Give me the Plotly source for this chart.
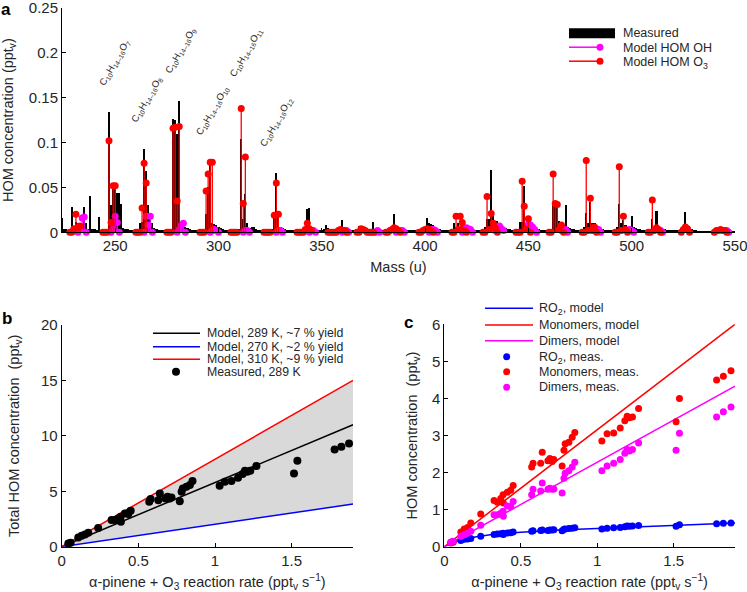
import plotly.graph_objects as go

# ---------------- Panel a : mass spectrum ----------------
measured_mass = list(range(224, 551))
measured_conc = [
    0.016, 0.004, 0.004, 0.003, 0.004, 0.028, 0.005, 0.012, 0.010, 0.006,  # 224-233
    0.004, 0.028, 0.010, 0.004, 0.040, 0.004, 0.004, 0.003, 0.017, 0.003,  # 234-243
    0.003, 0.004, 0.004, 0.134, 0.030, 0.052, 0.052, 0.044, 0.044, 0.032,  # 244-253
    0.005, 0.004, 0.004, 0.003, 0.003, 0.003, 0.004, 0.004, 0.010, 0.012,  # 254-263
    0.093, 0.068, 0.030, 0.015, 0.010, 0.005, 0.004, 0.003, 0.003, 0.003,  # 264-273
    0.003, 0.003, 0.004, 0.004, 0.126, 0.125, 0.110, 0.146, 0.012, 0.010,  # 274-283
    0.006, 0.005, 0.004, 0.003, 0.003, 0.003, 0.003, 0.003, 0.003, 0.004,  # 284-293
    0.020, 0.050, 0.080, 0.010, 0.009, 0.008, 0.006, 0.005, 0.004, 0.003,  # 294-303
    0.003, 0.003, 0.003, 0.003, 0.003, 0.003, 0.004, 0.104, 0.015, 0.043,  # 304-313
    0.010, 0.005, 0.006, 0.006, 0.004, 0.003, 0.003, 0.003, 0.003, 0.003,  # 314-323
    0.003, 0.003, 0.004, 0.020, 0.066, 0.020, 0.006, 0.005, 0.004, 0.003,  # 324-333
    0.003, 0.003, 0.003, 0.003, 0.003, 0.003, 0.003, 0.003, 0.004, 0.026,  # 334-343
    0.027, 0.005, 0.004, 0.003, 0.003, 0.003, 0.003, 0.004, 0.008, 0.005,  # 344-353
    0.004, 0.004, 0.003, 0.004, 0.004, 0.005, 0.014, 0.004, 0.004, 0.003,  # 354-363
    0.003, 0.003, 0.003, 0.004, 0.007, 0.005, 0.004, 0.004, 0.003, 0.003,  # 364-373
    0.004, 0.012, 0.004, 0.003, 0.003, 0.003, 0.003, 0.003, 0.004, 0.005,  # 374-383
    0.006, 0.020, 0.005, 0.004, 0.004, 0.003, 0.003, 0.003, 0.003, 0.003,  # 384-393
    0.003, 0.003, 0.003, 0.003, 0.003, 0.004, 0.005, 0.016, 0.010, 0.009,  # 394-403
    0.008, 0.006, 0.004, 0.004, 0.003, 0.003, 0.003, 0.003, 0.003, 0.004,  # 404-413
    0.010, 0.006, 0.010, 0.006, 0.012, 0.008, 0.006, 0.004, 0.004, 0.003,  # 414-423
    0.003, 0.003, 0.003, 0.003, 0.004, 0.006, 0.015, 0.015, 0.069, 0.020,  # 424-433
    0.013, 0.013, 0.010, 0.008, 0.006, 0.005, 0.004, 0.004, 0.003, 0.003,  # 434-443
    0.003, 0.004, 0.012, 0.012, 0.052, 0.010, 0.010, 0.008, 0.006, 0.005,  # 444-453
    0.004, 0.004, 0.003, 0.003, 0.003, 0.003, 0.003, 0.004, 0.034, 0.033,  # 454-463
    0.032, 0.013, 0.012, 0.008, 0.030, 0.006, 0.005, 0.004, 0.004, 0.003,  # 464-473
    0.003, 0.003, 0.003, 0.006, 0.022, 0.010, 0.034, 0.010, 0.010, 0.006,  # 474-483
    0.005, 0.004, 0.004, 0.003, 0.003, 0.003, 0.003, 0.003, 0.003, 0.006,  # 484-493
    0.032, 0.010, 0.014, 0.008, 0.006, 0.005, 0.018, 0.006, 0.005, 0.004,  # 494-503
    0.004, 0.003, 0.003, 0.003, 0.003, 0.004, 0.015, 0.006, 0.024, 0.006,  # 504-513
    0.005, 0.004, 0.004, 0.003, 0.003, 0.003, 0.003, 0.003, 0.003, 0.003,  # 514-523
    0.004, 0.005, 0.023, 0.005, 0.004, 0.004, 0.003, 0.003, 0.002, 0.002,  # 524-533
    0.002, 0.002, 0.002, 0.002, 0.002, 0.002, 0.002, 0.003, 0.003, 0.003,  # 534-543
    0.003, 0.003, 0.003, 0.003, 0.002, 0.002, 0.002,                       # 544-550
]

o3_mass = [
    228, 229, 230, 231, 232, 233,
    244, 245, 246, 247, 248, 249, 250,
    260, 261, 262, 263, 264, 265,
    275, 276, 277, 278, 279, 280, 281,
    291, 292, 293, 294, 295, 296, 297,
    306, 307, 308, 309, 311, 312, 313,
    322, 323, 324, 325, 327, 328, 329,
    338, 339, 340, 341, 342, 343, 344, 345,
    353, 354, 355, 356, 357, 358, 359, 360, 361, 362,
    367, 368, 369, 370, 371, 372, 373, 374, 375,
    381, 382, 383, 384, 385, 386, 387, 388,
    397, 398, 399, 400, 401, 402, 403, 404,
    413, 414, 415, 416, 417, 418, 419, 420,
    428, 429, 430, 431, 432, 433, 434, 435,
    444, 445, 446, 447, 448, 449, 450, 451,
    460, 461, 462, 463, 464, 465, 466, 467,
    476, 477, 478, 479, 480, 481, 482, 483,
    492, 493, 494, 495, 496, 497, 498,
    508, 509, 510, 511, 512, 513, 514,
    524, 525, 526, 527, 528,
    540, 541, 542, 543, 544, 545, 546,
]
o3_conc = [
    0, 0, 0.004, 0.020, 0.006, 0.007,
    0, 0, 0, 0.102, 0.011, 0.052, 0.052,
    0, 0, 0, 0.027, 0.077, 0.055,
    0, 0, 0, 0.116, 0.117, 0.035, 0.118,
    0, 0, 0, 0.046, 0.065, 0.078, 0.078,
    0, 0, 0, 0, 0.138, 0.032, 0.084,
    0, 0, 0, 0, 0.019, 0.055, 0.020,
    0, 0, 0, 0, 0.003, 0.010, 0.004, 0.002,
    0, 0, 0, 0, 0, 0.002, 0.003, 0.002, 0.002, 0,
    0, 0, 0.004, 0.003, 0.002, 0, 0, 0, 0,
    0, 0, 0.002, 0.003, 0.005, 0.004, 0.002, 0,
    0, 0, 0.002, 0.003, 0.004, 0.003, 0.002, 0,
    0, 0, 0.018, 0.003, 0.018, 0.011, 0.002, 0,
    0, 0, 0.040, 0.003, 0.021, 0.010, 0.005, 0,
    0, 0, 0, 0.057, 0.029, 0.003, 0.015, 0,
    0, 0, 0.065, 0.032, 0.031, 0.003, 0.008, 0,
    0, 0, 0.080, 0.002, 0.038, 0.002, 0.006, 0,
    0, 0, 0.073, 0.002, 0.018, 0.003, 0,
    0, 0, 0.036, 0.002, 0.005, 0.003, 0,
    0, 0.003, 0.006, 0.004, 0,
    0, 0.002, 0.002, 0.003, 0.002, 0.002, 0,
]

oh_mass = [
    232, 233, 234, 235, 236,
    248, 249, 250, 251, 252,
    264, 265, 266, 267, 268,
    280, 281, 282, 283, 284,
    296, 297, 298, 299, 300,
    312, 313, 314, 315,
    328, 329, 330, 331,
    344, 345, 346, 347,
    360, 361, 362, 363,
    376, 377, 378,
    386, 387, 388, 389, 390,
    402, 403, 404, 405, 406,
    418, 419, 420, 421, 422, 423,
    434, 435, 436, 437, 438,
    449, 450, 451, 452, 453, 454,
    466, 467, 468, 469,
    482, 483, 484, 485,
    498, 499, 500, 501,
    514, 515,
    545, 546, 547,
]
oh_conc = [
    0, 0.003, 0.016, 0.017, 0,
    0, 0.004, 0.018, 0.011, 0,
    0, 0.018, 0.008, 0.018, 0,
    0, 0.003, 0.008, 0.010, 0,
    0, 0.002, 0.003, 0.002, 0,
    0, 0.002, 0.002, 0,
    0, 0.002, 0.002, 0,
    0, 0.002, 0.002, 0,
    0, 0.002, 0.002, 0,
    0, 0.002, 0,
    0, 0.002, 0.002, 0.002, 0,
    0, 0.003, 0.003, 0.002, 0,
    0, 0.004, 0.005, 0.004, 0.003, 0,
    0.002, 0.006, 0.007, 0.004, 0.002,
    0.003, 0.009, 0.008, 0.006, 0.003, 0,
    0.002, 0.004, 0.003, 0,
    0.002, 0.004, 0.003, 0,
    0.002, 0.003, 0.002, 0,
    0.002, 0,
    0.002, 0.002, 0,
]

formula_text = [
    "C<sub>10</sub>H<sub>14\u201316</sub>O<sub>7</sub>",
    "C<sub>10</sub>H<sub>14\u201316</sub>O<sub>8</sub>",
    "C<sub>10</sub>H<sub>14\u201316</sub>O<sub>9</sub>",
    "C<sub>10</sub>H<sub>14\u201316</sub>O<sub>10</sub>",
    "C<sub>10</sub>H<sub>14\u201316</sub>O<sub>11</sub>",
    "C<sub>10</sub>H<sub>14\u201316</sub>O<sub>12</sub>",
]
formula_mass = [249.5, 265.0, 281.8, 297.3, 313.2, 328.0]
formula_conc = [0.189, 0.148, 0.203, 0.136, 0.200, 0.123]

# ---------------- Panels b and c ----------------
reaction_rate = [0.043, 0.058, 0.108, 0.130, 0.152, 0.173, 0.238, 0.325, 0.347, 0.369,
                 0.384, 0.386, 0.412, 0.434, 0.450, 0.571, 0.580, 0.630, 0.640, 0.677,
                 0.690, 0.705, 0.716, 0.770, 0.782, 0.790, 0.814, 0.836, 0.853, 1.030,
                 1.064, 1.107, 1.150, 1.180, 1.195, 1.210, 1.230, 1.270, 1.515, 1.537,
                 1.780, 1.824, 1.874]
total_meas = [0.30, 0.36, 0.84, 1.00, 1.10, 1.26, 1.68, 2.40, 2.40, 2.55,
              2.70, 2.25, 3.00, 2.95, 3.25, 4.06, 4.30, 4.20, 4.80, 4.36,
              4.50, 4.36, 4.45, 4.10, 4.96, 5.26, 5.40, 5.56, 5.92, 5.50,
              5.86, 5.92, 6.22, 6.55, 6.86, 6.77, 6.86, 7.28, 6.60, 7.76,
              8.78, 9.02, 9.30]
ro2_meas = [0.12, 0.14, 0.17, 0.20, 0.21, 0.22, 0.28, 0.33, 0.34, 0.35,
            0.36, 0.33, 0.37, 0.38, 0.40, 0.42, 0.43, 0.44, 0.45, 0.44,
            0.45, 0.45, 0.46, 0.43, 0.47, 0.48, 0.49, 0.50, 0.51, 0.48,
            0.50, 0.51, 0.52, 0.54, 0.56, 0.55, 0.56, 0.57, 0.55, 0.59,
            0.62, 0.63, 0.64]
mono_meas = [0.10, 0.12, 0.40, 0.48, 0.52, 0.64, 0.88, 1.25, 1.20, 1.30,
             1.40, 1.18, 1.47, 1.52, 1.65, 2.15, 2.25, 2.25, 2.55, 2.32,
             2.38, 2.30, 2.35, 2.18, 2.60, 2.78, 2.82, 2.95, 3.08, 2.85,
             3.05, 3.07, 3.20, 3.40, 3.52, 3.48, 3.50, 3.73, 3.37, 4.00,
             4.50, 4.60, 4.75]
dimer_meas = [0.12, 0.15, 0.28, 0.32, 0.36, 0.42, 0.58, 0.86, 0.86, 0.90,
              0.96, 0.82, 1.10, 1.08, 1.22, 1.40, 1.55, 1.50, 1.72, 1.55,
              1.58, 1.55, 1.56, 1.45, 1.85, 1.98, 2.05, 2.15, 2.28, 2.05,
              2.18, 2.25, 2.35, 2.52, 2.62, 2.58, 2.62, 2.80, 2.60, 3.06,
              3.50, 3.64, 3.77]

model_rate = [0.0, 1.9]
model_289K = [0.0, 11.0]
model_270K = [0.0, 3.85]
model_310K = [0.0, 15.0]

ro2_model_rate = [0.0, 0.05, 0.10, 0.20, 0.30, 0.50, 0.75, 1.00, 1.25, 1.50, 1.90]
ro2_model = [0.0, 0.10, 0.17, 0.26, 0.32, 0.39, 0.45, 0.49, 0.54, 0.58, 0.64]
mono_model = [0.0, 6.0]
dimer_model = [0.0, 4.33]

RED = "#ff0000"
BLUE = "#0000ff"
MAG = "#ff00ff"
TXT = "#262626"
FONT = "Liberation Sans, Arial, sans-serif"
W, H = 747, 592

fig = go.Figure()

# ---- panel a traces ----
fig.add_trace(go.Bar(x=measured_mass, y=measured_conc, width=1.0, name="Measured",
                     marker=dict(color="black", line=dict(width=0)),
                     showlegend=False, xaxis="x", yaxis="y"))
fig.add_trace(go.Scatter(
    x=oh_mass, y=oh_conc, mode="markers", cliponaxis=False, name="Model HOM OH",
    marker=dict(color=MAG, size=7),
    error_y=dict(type="data", symmetric=False, array=[0] * len(oh_conc),
                 arrayminus=oh_conc, width=0, thickness=1.3, color=MAG),
    showlegend=False, xaxis="x", yaxis="y"))
fig.add_trace(go.Scatter(
    x=o3_mass, y=o3_conc, mode="markers", cliponaxis=False, name="Model HOM O3",
    marker=dict(color=RED, size=7),
    error_y=dict(type="data", symmetric=False, array=[0] * len(o3_conc),
                 arrayminus=o3_conc, width=0, thickness=1.3, color=RED),
    showlegend=False, xaxis="x", yaxis="y"))

# ---- panel b traces ----
fig.add_trace(go.Scatter(x=model_rate, y=model_270K, mode="lines",
                         line=dict(color=BLUE, width=0), showlegend=False,
                         hoverinfo="skip", xaxis="x2", yaxis="y2"))
fig.add_trace(go.Scatter(x=model_rate, y=model_310K, mode="lines", fill="tonexty",
                         fillcolor="#d9d9d9", line=dict(color=RED, width=0),
                         showlegend=False, hoverinfo="skip", xaxis="x2", yaxis="y2"))
fig.add_trace(go.Scatter(x=model_rate, y=model_289K, mode="lines", showlegend=False,
                         name="Model, 289 K, ~7 % yield",
                         line=dict(color="black", width=1.5), xaxis="x2", yaxis="y2"))
fig.add_trace(go.Scatter(x=model_rate, y=model_270K, mode="lines", showlegend=False,
                         name="Model, 270 K, ~2 % yield",
                         line=dict(color=BLUE, width=1.5), xaxis="x2", yaxis="y2"))
fig.add_trace(go.Scatter(x=model_rate, y=model_310K, mode="lines", showlegend=False,
                         name="Model, 310 K, ~9 % yield",
                         line=dict(color=RED, width=1.5), xaxis="x2", yaxis="y2"))
fig.add_trace(go.Scatter(x=reaction_rate, y=total_meas, mode="markers", showlegend=False,
                         name="Measured, 289 K", cliponaxis=False,
                         marker=dict(color="black", size=8), xaxis="x2", yaxis="y2"))

# ---- panel c traces ----
fig.add_trace(go.Scatter(x=ro2_model_rate, y=ro2_model, mode="lines", showlegend=False,
                         name="RO2, model", line=dict(color=BLUE, width=1.5),
                         xaxis="x3", yaxis="y3"))
fig.add_trace(go.Scatter(x=model_rate, y=mono_model, mode="lines", showlegend=False,
                         name="Monomers, model", line=dict(color=RED, width=1.5),
                         xaxis="x3", yaxis="y3"))
fig.add_trace(go.Scatter(x=model_rate, y=dimer_model, mode="lines", showlegend=False,
                         name="Dimers, model", line=dict(color=MAG, width=1.5),
                         xaxis="x3", yaxis="y3"))
fig.add_trace(go.Scatter(x=reaction_rate, y=ro2_meas, mode="markers", showlegend=False,
                         name="RO2, meas.", cliponaxis=False,
                         marker=dict(color=BLUE, size=7), xaxis="x3", yaxis="y3"))
fig.add_trace(go.Scatter(x=reaction_rate, y=mono_meas, mode="markers", showlegend=False,
                         name="Monomers, meas.", cliponaxis=False,
                         marker=dict(color=RED, size=7), xaxis="x3", yaxis="y3"))
fig.add_trace(go.Scatter(x=reaction_rate, y=dimer_meas, mode="markers", showlegend=False,
                         name="Dimers, meas.", cliponaxis=False,
                         marker=dict(color=MAG, size=7), xaxis="x3", yaxis="y3"))

axis_common = dict(showline=True, linecolor="black", linewidth=1, ticks="inside",
                   ticklen=4, tickwidth=1, tickcolor="black", showgrid=False,
                   zeroline=False, mirror=False, automargin=False,
                   ticklabeloverflow="allow",
                   tickfont=dict(family=FONT, size=15, color=TXT))
title_font = dict(family=FONT, size=14.5, color=TXT)
rate_title = ("\u03b1-pinene + O<sub>3</sub> reaction rate "
              "(ppt<sub>v</sub> s<sup>\u22121</sup>)")

fig.update_layout(
    width=W, height=H, autosize=False,
    margin=dict(l=0, r=0, t=0, b=0),
    paper_bgcolor="white", plot_bgcolor="white",
    font=dict(family=FONT, color=TXT),
    bargap=0, showlegend=False,
    xaxis=dict(axis_common, domain=[0.0830, 0.9839], range=[224.25, 550],
               tickvals=[250, 300, 350, 400, 450, 500, 550], anchor="y",
               title=dict(text="Mass (u)", font=title_font, standoff=8)),
    yaxis=dict(axis_common, domain=[0.6076, 0.9865], range=[0, 0.25],
               tickvals=[0, 0.05, 0.1, 0.15, 0.2, 0.25],
               ticktext=["0", "0.05", "0.1", "0.15", "0.2", "0.25"], anchor="x",
               title=dict(text="HOM concentration (ppt<sub>v</sub>)", font=title_font,
                          standoff=12)),
    xaxis2=dict(axis_common, domain=[0.0826, 0.4726], range=[0, 1.9],
                tickvals=[0, 0.5, 1, 1.5], anchor="y2",
                title=dict(text=rate_title, font=title_font, standoff=9)),
    yaxis2=dict(axis_common, domain=[0.0765, 0.4510], range=[0, 20],
                tickvals=[0, 5, 10, 15, 20], anchor="x2",
                title=dict(text="Total HOM concentration  (ppt<sub>v</sub>)",
                           font=title_font, standoff=17)),
    xaxis3=dict(axis_common, domain=[0.5948, 0.9839], range=[0, 1.9],
                tickvals=[0, 0.5, 1, 1.5], anchor="y3",
                title=dict(text=rate_title, font=title_font, standoff=9)),
    yaxis3=dict(axis_common, domain=[0.0765, 0.4522], range=[0, 6],
                tickvals=[0, 1, 2, 3, 4, 5, 6], anchor="x3",
                title=dict(text="HOM concentration  (ppt<sub>v</sub>)", font=title_font,
                           standoff=10)),
)

# formula labels (panel a)
for txt, mx, my in zip(formula_text, formula_mass, formula_conc):
    fig.add_annotation(x=mx, y=my, xref="x", yref="y", text=txt, showarrow=False,
                       textangle=-60, xanchor="center", yanchor="middle",
                       font=dict(family=FONT, size=9.5, color=TXT))

# panel letters
for letter, px, py in [("a", -1, -2), ("b", 0, 307), ("c", 402, 311)]:
    fig.add_annotation(x=px / W, y=1 - py / H, xref="paper", yref="paper",
                       text="<b>%s</b>" % letter, showarrow=False,
                       xanchor="left", yanchor="top",
                       font=dict(family=FONT, size=17, color="black"))


# ---- hand-drawn legends (pixel layout) ----
def legend_line(x0, x1, y, color, width=1.5):
    fig.add_shape(type="line", xref="paper", yref="paper",
                  x0=x0 / W, x1=x1 / W, y0=1 - y / H, y1=1 - y / H,
                  line=dict(color=color, width=width))


def legend_dot(x, y, color, d):
    fig.add_shape(type="circle", xref="paper", yref="paper",
                  xsizemode="pixel", ysizemode="pixel",
                  xanchor=x / W, yanchor=1 - y / H,
                  x0=-d / 2, x1=d / 2, y0=-d / 2, y1=d / 2,
                  fillcolor=color, line=dict(color=color, width=0))


def legend_text(x, y, text, size=12.5):
    fig.add_annotation(x=x / W, y=1 - y / H, xref="paper", yref="paper", text=text,
                       showarrow=False, xanchor="left", yanchor="middle",
                       font=dict(family=FONT, size=size, color=TXT))


# panel a legend
fig.add_shape(type="rect", xref="paper", yref="paper",
              x0=569 / W, x1=615 / W, y0=1 - 38.3 / H, y1=1 - 28.3 / H,
              fillcolor="black", line=dict(width=0))
legend_text(620.5, 33.3, "Measured")
legend_line(569, 600, 47.2, MAG)
legend_dot(600, 47.2, MAG, 7)
legend_text(620.5, 47.7, "Model HOM OH")
legend_line(569, 600, 61.2, RED)
legend_dot(600, 61.2, RED, 7)
legend_text(620.5, 62.5, "Model HOM O<sub>3</sub>")

# panel b legend
b_rows = [333.3, 346.7, 359.3, 371.7]
legend_line(153, 200, b_rows[0], "black")
legend_text(205, b_rows[0], "Model, 289 K, ~7 % yield", 12.3)
legend_line(153, 200, b_rows[1], BLUE)
legend_text(205, b_rows[1], "Model, 270 K, ~2 % yield", 12.3)
legend_line(153, 200, b_rows[2], RED)
legend_text(205, b_rows[2], "Model, 310 K, ~9 % yield", 12.3)
legend_dot(176, b_rows[3], "black", 8)
legend_text(205, b_rows[3], "Measured, 289 K", 12.3)

# panel c legend
c_rows = [308.3, 325.0, 340.7, 356.7, 371.7, 387.3]
legend_line(485, 533, c_rows[0], BLUE)
legend_text(536.5, c_rows[0] + 1, "RO<sub>2</sub>, model")
legend_line(485, 533, c_rows[1], RED)
legend_text(536.5, c_rows[1], "Monomers, model")
legend_line(485, 533, c_rows[2], MAG)
legend_text(536.5, c_rows[2], "Dimers, model")
legend_dot(506.7, c_rows[3], BLUE, 7)
legend_text(536.5, c_rows[3] + 1, "RO<sub>2</sub>, meas.")
legend_dot(506.7, c_rows[4], RED, 7)
legend_text(536.5, c_rows[4], "Monomers, meas.")
legend_dot(506.7, c_rows[5], MAG, 7)
legend_text(536.5, c_rows[5], "Dimers, meas.")

fig.write_html("out.html", config={"displayModeBar": False},
               post_script="document.body.style.margin='0';"
                           "document.body.style.overflow='hidden';")
